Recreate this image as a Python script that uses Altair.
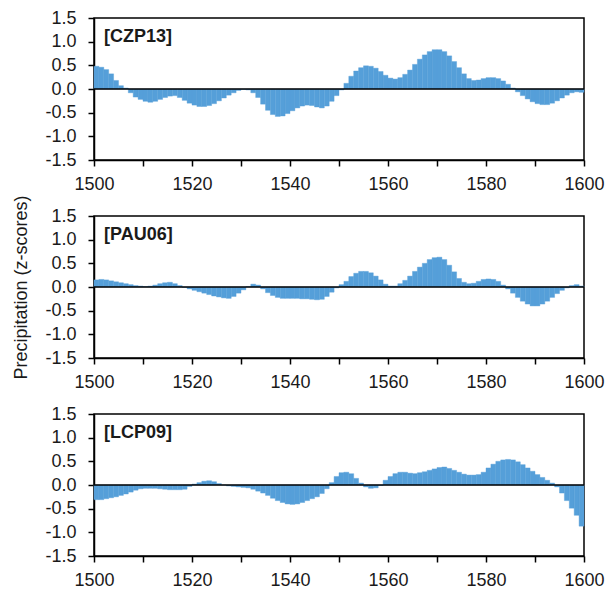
import altair as alt
import pandas as pd

years = list(range(1500, 1600))

czp13 = [0.48, 0.46, 0.41, 0.32, 0.18, 0.07, 0.02, -0.08, -0.17, -0.22,
         -0.26, -0.28, -0.26, -0.22, -0.18, -0.15, -0.14, -0.18, -0.24, -0.30,
         -0.34, -0.37, -0.37, -0.35, -0.31, -0.25, -0.19, -0.13, -0.08, -0.03,
         -0.01, -0.02, -0.08, -0.18, -0.32, -0.45, -0.54, -0.58, -0.57, -0.52,
         -0.46, -0.40, -0.36, -0.34, -0.35, -0.38, -0.40, -0.36, -0.26, -0.14,
         -0.02, 0.12, 0.27, 0.38, 0.45, 0.49, 0.48, 0.44, 0.37, 0.29,
         0.23, 0.21, 0.24, 0.31, 0.40, 0.52, 0.63, 0.72, 0.79, 0.83,
         0.83, 0.79, 0.70, 0.58, 0.45, 0.32, 0.22, 0.18, 0.19, 0.22,
         0.24, 0.24, 0.22, 0.17, 0.10, 0.02, -0.06, -0.14, -0.21, -0.27,
         -0.31, -0.33, -0.33, -0.30, -0.25, -0.19, -0.13, -0.08, -0.06, -0.07]

pau06 = [0.15, 0.16, 0.15, 0.13, 0.11, 0.09, 0.07, 0.05, 0.03, 0.02,
         0.01, 0.02, 0.04, 0.07, 0.09, 0.10, 0.07, 0.03, -0.01, -0.04,
         -0.07, -0.10, -0.13, -0.16, -0.19, -0.21, -0.23, -0.24, -0.20, -0.13,
         -0.06, 0.01, 0.06, 0.04, -0.04, -0.12, -0.18, -0.22, -0.24, -0.24,
         -0.24, -0.24, -0.25, -0.25, -0.26, -0.27, -0.26, -0.20, -0.11, -0.02,
         0.05, 0.12, 0.22, 0.29, 0.33, 0.33, 0.30, 0.23, 0.15, 0.06,
         0.02, 0.02, 0.07, 0.14, 0.23, 0.33, 0.42, 0.50, 0.58, 0.62,
         0.63, 0.58, 0.46, 0.32, 0.18, 0.10, 0.07, 0.08, 0.12, 0.16,
         0.17, 0.16, 0.12, 0.04, -0.04, -0.13, -0.22, -0.30, -0.36, -0.40,
         -0.40, -0.36, -0.30, -0.22, -0.14, -0.07, -0.02, 0.03, 0.05, 0.02]

lcp09 = [-0.31, -0.31, -0.29, -0.27, -0.25, -0.22, -0.19, -0.15, -0.11, -0.08,
         -0.07, -0.07, -0.07, -0.08, -0.09, -0.10, -0.10, -0.10, -0.09, -0.03,
         0.02, 0.05, 0.08, 0.09, 0.07, 0.03, 0.00, -0.02, -0.03, -0.04,
         -0.05, -0.06, -0.09, -0.13, -0.17, -0.22, -0.28, -0.33, -0.37, -0.40,
         -0.41, -0.40, -0.37, -0.33, -0.29, -0.25, -0.18, -0.08, 0.05, 0.18,
         0.26, 0.27, 0.24, 0.14, 0.04, -0.04, -0.07, -0.06, -0.01, 0.10,
         0.18, 0.24, 0.27, 0.27, 0.25, 0.24, 0.26, 0.28, 0.31, 0.34,
         0.37, 0.38, 0.35, 0.31, 0.27, 0.23, 0.21, 0.21, 0.22, 0.27,
         0.36, 0.44, 0.50, 0.53, 0.54, 0.53, 0.49, 0.43, 0.36, 0.29,
         0.22, 0.16, 0.10, 0.04, -0.04, -0.17, -0.33, -0.49, -0.64, -0.87]

labels = ["[CZP13]", "[PAU06]", "[LCP09]"]
x_ticks = list(range(1500, 1601, 10))
y_ticks = [-1.5, -1.0, -0.5, 0.0, 0.5, 1.0, 1.5]

BAR = "#559fd9"
FONT = "Liberation Sans"
Y_LABELS = "replace(format(datum.value, '.1f'), '\u2212', '-')"
X_LABELS = "datum.value % 20 == 0 ? format(datum.value, 'd') : ''"


def panel(vals, label, show_title):
    df = pd.DataFrame({"year": years, "end": [y + 1 for y in years], "z": vals})
    title = "Precipitation (z-scores)" if show_title else None
    y_axis = alt.Axis(values=y_ticks, grid=False, labelOverlap=False,
                      labelExpr=Y_LABELS, title=title)
    bars = alt.Chart(df).mark_rect(color=BAR, stroke=BAR, strokeWidth=0.4).encode(
        x=alt.X("year:Q",
                scale=alt.Scale(domain=[1500, 1600], nice=False, zero=False),
                axis=alt.Axis(values=x_ticks, title=None, grid=False,
                              labelOverlap=False, labelFlush=False,
                              labelExpr=X_LABELS)),
        x2="end:Q",
        y=alt.Y("z:Q", scale=alt.Scale(domain=[-1.5, 1.5], nice=False), axis=y_axis),
        y2=alt.datum(0),
    )
    zero = alt.Chart(pd.DataFrame({"z": [0]})).mark_rule(color="black", strokeWidth=1.5).encode(
        y=alt.Y("z:Q", axis=y_axis))
    text = alt.Chart(pd.DataFrame({"t": [label]})).mark_text(
        align="left", baseline="alphabetic", fontWeight="bold", fontSize=18, font=FONT,
        color="#1a1a1a").encode(x=alt.value(10), y=alt.value(24), text="t:N")
    return alt.layer(bars, zero, text).properties(width=490, height=142)


chart = alt.vconcat(
    panel(czp13, labels[0], False),
    panel(pau06, labels[1], True),
    panel(lcp09, labels[2], False),
    spacing=56,
    bounds="flush",
).properties(
    padding={"left": 4, "top": 0, "right": 2, "bottom": 0},
    background="white",
).configure_view(
    stroke="black", strokeWidth=1.5
).configure_axis(
    domainColor="black", domainWidth=1.5, tickColor="black", tickWidth=1.5,
    tickSize=6, labelFont=FONT, titleFont=FONT, labelColor="#1a1a1a",
    titleColor="#1a1a1a", titleFontWeight="normal"
).configure_axisX(
    labelFontSize=18, labelPadding=9, labelOverlap=False
).configure_axisY(
    labelFontSize=18, labelPadding=12, titleFontSize=18, titlePadding=14,
    labelOverlap=False
)

chart.save("out.html", embed_options={"renderer": "svg", "actions": False})
